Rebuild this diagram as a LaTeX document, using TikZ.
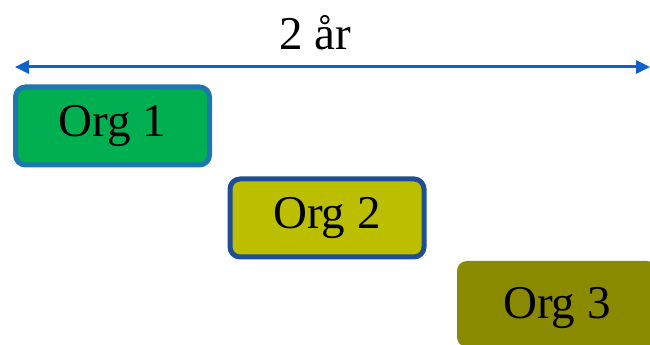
\documentclass[tikz,border=0pt]{standalone}
\usepackage{fontspec}
\setmainfont{Liberation Serif}
\usepackage{tikz}
\usetikzlibrary{arrows.meta,positioning}
\definecolor{spanblue}{HTML}{0E62C7}
\definecolor{orgonefill}{HTML}{00B050}
\definecolor{orgonedraw}{HTML}{1C77AC}
\definecolor{orgtwofill}{HTML}{BBBF00}
\definecolor{orgtwodraw}{HTML}{1F4E96}
\definecolor{orgthreefill}{HTML}{8A8A00}
\tikzset{
  span/.style={{Triangle[length=14pt,width=13pt]}-{Triangle[length=14pt,width=13pt]}, line width=3pt, draw=spanblue},
  orgbox/.style={rounded corners=10pt, align=center, inner sep=3pt,
    font=\fontsize{47}{52}\selectfont, minimum width=194pt, minimum height=78pt},
  lbl/.style={font=\fontsize{47}{52}\selectfont}
}
\begin{document}
\begin{tikzpicture}[x=1pt,y=1pt]
  \useasboundingbox (0,0) rectangle (650,345);
  % time span
  \coordinate (spanL) at (15,278);
  \coordinate (spanR) at (650,278);
  \draw[span] (spanL) -- (spanR);
  \node[lbl] (years) at (315,312) {2 år};

  % organisations
  \node[orgbox, fill=orgonefill, draw=orgonedraw, line width=5pt] (org1) at (112.5,219) {Org 1};
  \node[orgbox, fill=orgtwofill, draw=orgtwodraw, line width=5pt] (org2) at (327,127) {Org 2};
  \node[orgbox, fill=orgthreefill, minimum width=200pt, minimum height=86pt, text depth=2pt] (org3) at (557,41) {Org 3};
\end{tikzpicture}
\end{document}
